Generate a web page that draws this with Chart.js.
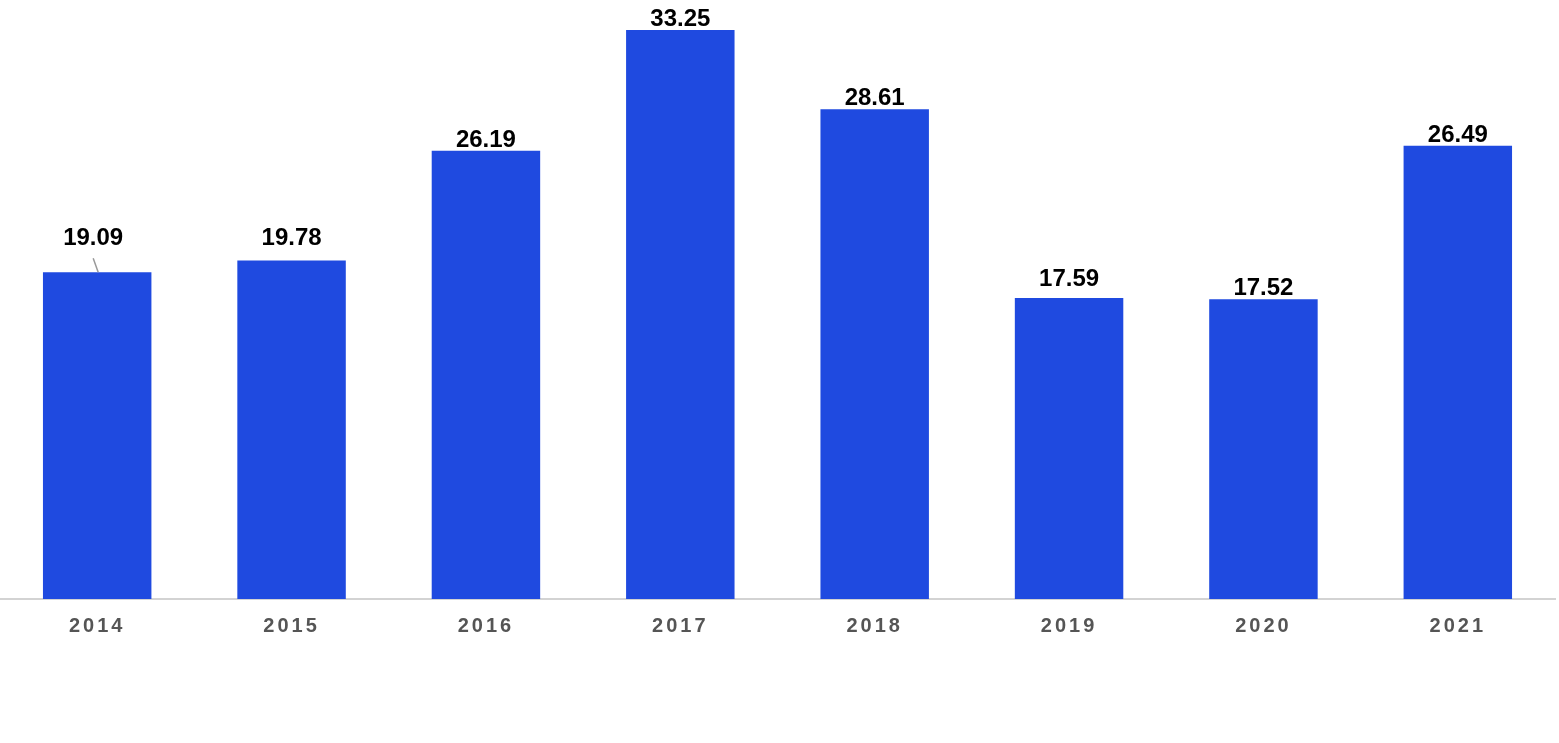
<!DOCTYPE html>
<html>
<head>
<meta charset="utf-8">
<script src="https://cdn.jsdelivr.net/npm/chart.js@4/dist/chart.umd.min.js"></script>
<style>
  html, body { margin: 0; padding: 0; background: #ffffff; }
  #wrap { width: 1559px; height: 743px; }
</style>
</head>
<body>
<div id="wrap"><canvas id="c" width="1559" height="743"></canvas></div>
<script>
const categories = ['2014', '2015', '2016', '2017', '2018', '2019', '2020', '2021'];
const values = [19.09, 19.78, 26.19, 33.25, 28.61, 17.59, 17.52, 26.49];

// label placement style (extra lift for labels the original nudged, px; leader line flag)
const labelLift = [23, 11, 0, 0, 0, 8, 0, 0];
const labelShiftX = [-4, 0, 0, 0, 0, 0, 0, 0];
const labelLeader = [true, false, false, false, false, false, false, false];

const spacingPlugin = {
  id: 'spacing',
  beforeDraw(chart) { chart.ctx.letterSpacing = '3px'; },
  afterDraw(chart) { chart.ctx.letterSpacing = '0px'; }
};

const valueLabels = {
  id: 'valueLabels',
  afterDatasetsDraw(chart) {
    const ctx = chart.ctx;
    const meta = chart.getDatasetMeta(0);
    ctx.save();
    ctx.letterSpacing = '0px';
    ctx.font = 'bold 24px "Liberation Sans", Arial, sans-serif';
    ctx.fillStyle = '#000000';
    ctx.textAlign = 'center';
    ctx.textBaseline = 'alphabetic';
    meta.data.forEach((bar, i) => {
      const x = bar.x + labelShiftX[i];
      const base = bar.y - 4 - labelLift[i];
      ctx.fillText(values[i].toFixed(2), x, base);
      if (labelLeader[i]) {
        ctx.beginPath();
        ctx.strokeStyle = '#999999';
        ctx.lineWidth = 1.5;
        ctx.moveTo(x, base + 13);
        ctx.lineTo(bar.x + 1, bar.y);
        ctx.stroke();
      }
    });
    ctx.restore();
  }
};

new Chart(document.getElementById('c'), {
  type: 'bar',
  data: {
    labels: categories,
    datasets: [{
      data: values,
      backgroundColor: '#1F4AE0',
      borderWidth: 0,
      categoryPercentage: 1.0,
      barPercentage: 0.558
    }]
  },
  options: {
    responsive: false,
    animation: false,
    devicePixelRatio: 1,
    layout: { padding: { left: 0, right: 4, top: 0, bottom: 90 } },
    plugins: { legend: { display: false }, tooltip: { enabled: false } },
    scales: {
      y: { display: false, min: 0, max: 35 },
      x: {
        grid: { display: false, drawTicks: false },
        border: { display: true, color: '#D3D3D3', width: 2 },
        ticks: {
          color: '#555555',
          padding: 15,
          font: { family: '"Liberation Sans", Arial, sans-serif', size: 20, weight: 'bold' }
        }
      }
    }
  },
  plugins: [spacingPlugin, valueLabels]
});
</script>
</body>
</html>
